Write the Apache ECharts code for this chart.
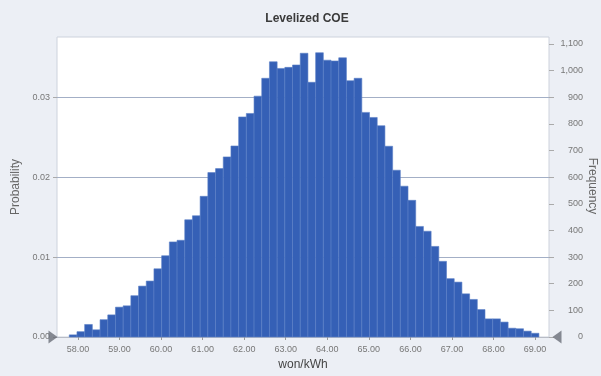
<!DOCTYPE html>
<html>
<head>
<meta charset="utf-8">
<script src="https://cdn.jsdelivr.net/npm/echarts@6/dist/echarts.min.js"></script>
<style>
html,body{margin:0;padding:0;background:#eceff5;}
#c{width:601px;height:376px;}
</style>
</head>
<body>
<div id="c"></div>
<script>
// ---- data ----
const chartTitle = "Levelized COE";
const xAxisName = "won/kWh";
const leftAxisName = "Probability";
const rightAxisName = "Frequency";
const binStart = 57.79;      // lower edge of first bin (won/kWh)
const binWidth = 0.1853;     // bin width (won/kWh)
const frequencies = [
  8, 20, 47, 27, 65, 83, 112, 117, 155, 191,
  210, 256, 305, 357, 363, 440, 455, 528, 617, 632,
  676, 717, 826, 839, 904, 971, 1033, 1008, 1012, 1021,
  1065, 956, 1067, 1039, 1036, 1048, 962, 971, 843, 824,
  793, 716, 626, 566, 513, 415, 397, 340, 284, 219,
  206, 162, 141, 103, 68, 68, 56, 33, 31, 22, 14
];
const totalTrials = 30000;
const xTickValues = [58, 59, 60, 61, 62, 63, 64, 65, 66, 67, 68, 69];
const probTicks = [0, 0.01, 0.02, 0.03];
const xMin = 57.495, xMax = 69.336;
const freqMax = 1126;

const bins = frequencies.map((f, i) => [binStart + i * binWidth, binStart + (i + 1) * binWidth, f]);

const chart = echarts.init(document.getElementById('c'));
chart.setOption({
  backgroundColor: '#eceff5',
  animation: false,
  title: {
    text: chartTitle, left: 302, top: 8, textAlign: 'center',
    textStyle: {fontFamily: 'Liberation Sans, Arial', fontSize: 12, fontWeight: 'bold', color: '#3a3a3a'}
  },
  graphic: [{
    type: 'text', x: 592, y: 186, rotation: -Math.PI / 2, silent: true,
    style: {text: rightAxisName, align: 'center', verticalAlign: 'middle', fontFamily: 'Liberation Sans, Arial', fontSize: 12, fill: '#666'}
  }],
  grid: {left: 57, right: 52, top: 37, bottom: 39, outerBoundsMode: 'none', containLabel: false, show: true, backgroundColor: '#ffffff', borderColor: '#cdd2dc', borderWidth: 1},
  xAxis: {
    type: 'value', min: xMin, max: xMax,
    name: xAxisName, nameLocation: 'middle', nameGap: 20,
    nameTextStyle: {fontFamily: 'Liberation Sans, Arial', fontSize: 12, color: '#444'},
    axisLine: {show: true, lineStyle: {color: '#b8bcc6'}},
    axisTick: {show: true, customValues: xTickValues, length: 3, lineStyle: {color: '#999'}},
    axisLabel: {customValues: xTickValues, formatter: v => v.toFixed(2), fontFamily: 'Liberation Sans, Arial', fontSize: 9, color: '#777', margin: 8},
    splitLine: {show: false}
  },
  yAxis: [
    {
      type: 'value', min: 0, max: freqMax / totalTrials, position: 'left',
      name: leftAxisName, nameLocation: 'middle', nameGap: 33, nameRotate: 90,
      nameTextStyle: {fontFamily: 'Liberation Sans, Arial', fontSize: 12, color: '#666'},
      axisLine: {show: false},
      axisTick: {show: true, customValues: probTicks, length: 4, lineStyle: {color: '#aaa'}},
      axisLabel: {customValues: probTicks, formatter: v => v.toFixed(2), fontFamily: 'Liberation Sans, Arial', fontSize: 9, color: '#777', margin: 7},
      splitLine: {show: true, lineStyle: {color: '#a3afc6', width: 1}}
    },
    {
      type: 'value', min: 0, max: freqMax, interval: 100, position: 'right',
      axisLine: {show: false},
      axisTick: {show: true, length: 5, lineStyle: {color: '#aaa'}},
      axisLabel: {formatter: v => v.toLocaleString('en-US'), fontFamily: 'Liberation Sans, Arial', fontSize: 9, color: '#777', margin: 34, align: 'right'},
      splitLine: {show: false}
    }
  ],
  series: [
    {
      type: 'custom', yAxisIndex: 1, data: bins,
      renderItem: function (params, api) {
        const p0 = api.coord([api.value(0), api.value(2)]);
        const p1 = api.coord([api.value(1), 0]);
        return {
          type: 'rect',
          shape: {x: p0[0], y: p0[1], width: p1[0] - p0[0], height: p1[1] - p0[1]},
          style: {fill: '#3560b6', stroke: '#5b80c6', lineWidth: 0.6}
        };
      },
      encode: {x: [0, 1], y: 2}
    },
    {
      type: 'scatter', yAxisIndex: 1, silent: true,
      symbol: 'path://M0,0 L10,6 L0,12 Z', symbolSize: [9, 13], symbolOffset: [-4, 0],
      itemStyle: {color: '#6a6e78'},
      data: [[xMin, 0]],
      clip: false
    },
    {
      type: 'scatter', yAxisIndex: 1, silent: true,
      symbol: 'path://M10,0 L0,6 L10,12 Z', symbolSize: [9, 13], symbolOffset: [8, 0],
      itemStyle: {color: '#6a6e78'},
      data: [[xMax, 0]],
      clip: false
    }
  ]
});
</script>
</body>
</html>
